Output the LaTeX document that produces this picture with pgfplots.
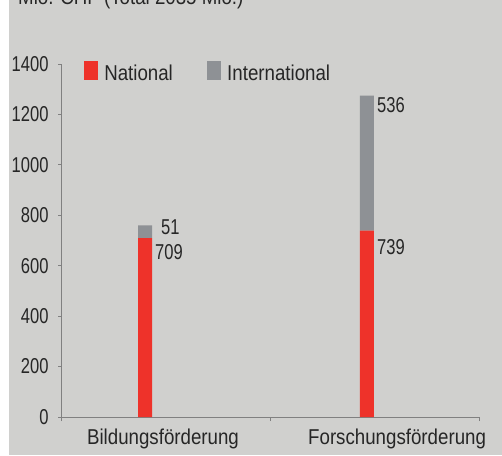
\documentclass[border=0pt]{standalone}
\usepackage{fontspec}
\setmainfont{Liberation Sans}[FakeStretch=0.87]
\newfontfamily\numf{Liberation Sans}[FakeStretch=0.77]
\usepackage{pgfplots}
\pgfplotsset{compat=1.18}
\definecolor{bgc}{RGB}{208,208,206}
\definecolor{natred}{RGB}{238,50,42}
\definecolor{intgray}{RGB}{142,145,149}
\definecolor{axgray}{RGB}{128,128,128}
\newcommand\f{\fontsize{21.5pt}{25pt}\selectfont}
\newcommand\fn{\numf\fontsize{21.5pt}{25pt}\selectfont}
\begin{document}
\begin{tikzpicture}
\useasboundingbox (0,0) rectangle (502pt,455pt);
\clip (0,0) rectangle (502pt,455pt);
\fill[bgc] (9pt,0) rectangle (502pt,455pt);
\node[anchor=base west, inner sep=0pt, font=\f, text=black!85] at (18pt,450pt) {Mio. CHF (Total 2035 Mio.)};
\begin{axis}[
  at={(61pt,38pt)}, anchor=south west,
  scale only axis, width=418pt, height=353pt,
  axis lines*=left,
  axis line style={axgray, line width=0.9pt},
  xmin=0, xmax=2, ymin=0, ymax=1400,
  ytick={0,200,...,1400},
  xtick={0,1,2}, xticklabels={},
  extra x ticks={0.488,1.608},
  extra x tick labels={Bildungsförderung,Forschungsförderung},
  extra x tick style={tick style={draw=none}},
  tick align=outside,
  tick style={axgray, line width=0.9pt},
  xtick style={/pgfplots/major tick length=4pt},
  ytick style={/pgfplots/major tick length=3pt},
  /pgf/number format/assume math mode=true,
  /pgf/number format/1000 sep={},
  yticklabel style={font=\fn, inner sep=0pt, text=black!85, xshift=-8pt},
  xticklabel style={font=\f, inner sep=0pt, text=black!85, yshift=-7pt},
  ybar stacked, bar width=14pt,
  legend columns=2,
  legend style={draw=none, fill=none, font=\f, text=black!85,
    at={(axis description cs:0.055,1.008)}, anchor=north west,
    inner sep=0pt, outer sep=0pt,
    /tikz/every even column/.append style={column sep=34pt},
    nodes={inner sep=0pt}},
  legend image code/.code={\fill[#1] (0pt,-7pt) rectangle (14pt,12pt); \path (20.3pt,0pt);},
  clip=false,
]
\addplot[fill=natred, draw=none] coordinates {(0.402,709) (1.464,739)};
\addplot[fill=intgray, draw=none] coordinates {(0.402,51) (1.464,536)};
\legend{National,International}
\node[anchor=north west, inner sep=0pt, font=\fn, text=black!85, xshift=10pt, yshift=-6.5pt] at (axis cs:0.402,709) {709};
\node[anchor=north west, inner sep=0pt, font=\fn, text=black!85, xshift=16pt, yshift=5.5pt] at (axis cs:0.402,760) {51};
\node[anchor=north west, inner sep=0pt, font=\fn, text=black!85, xshift=10pt, yshift=-1.3pt] at (axis cs:1.464,1275) {536};
\node[anchor=north west, inner sep=0pt, font=\fn, text=black!85, xshift=10pt, yshift=-8.4pt] at (axis cs:1.464,739) {739};
\end{axis}
\end{tikzpicture}
\end{document}
